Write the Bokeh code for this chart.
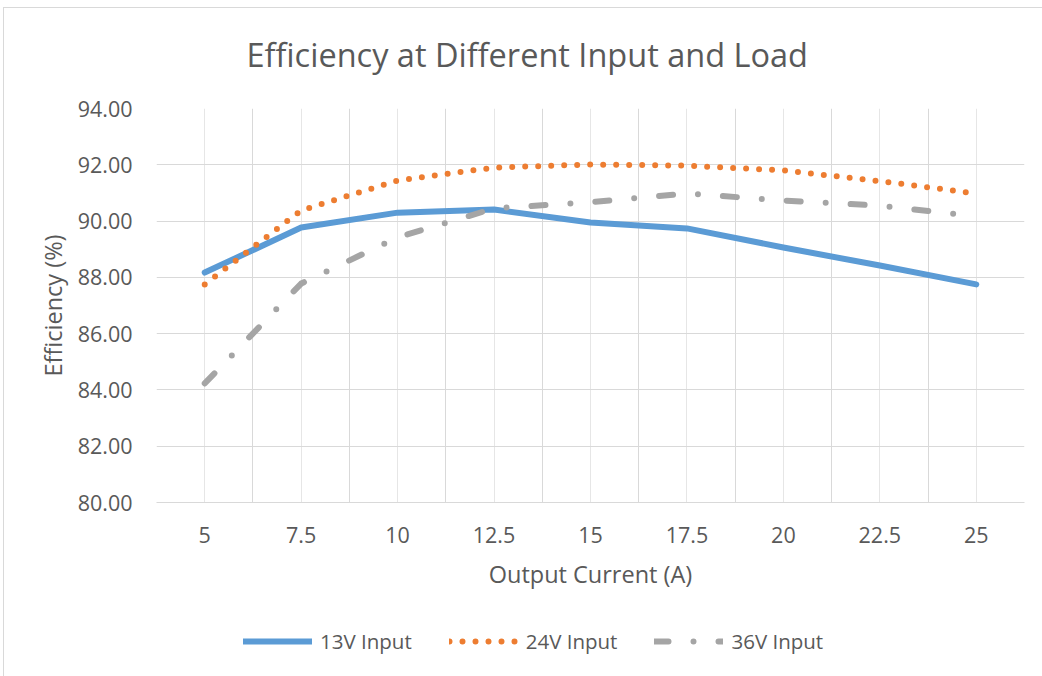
from bokeh.plotting import figure
from bokeh.layouts import column
from bokeh.models import (FixedTicker, NumeralTickFormatter, Legend, LegendItem,
                          Range1d, ColumnDataSource, Title)
from bokeh.embed import file_html
from bokeh.resources import INLINE

# ---- data ----
current = [5, 7.5, 10, 12.5, 15, 17.5, 20, 22.5, 25]
eff_13v = [88.17, 89.77, 90.30, 90.41, 89.95, 89.74, 89.06, 88.42, 87.75]
eff_24v = [87.75, 90.38, 91.44, 91.90, 92.01, 91.97, 91.80, 91.42, 90.98]
eff_36v = [84.23, 87.78, 89.42, 90.45, 90.67, 90.98, 90.73, 90.55, 90.17]
series_names = ["13V Input", "24V Input", "36V Input"]
y_ticks = [80, 82, 84, 86, 88, 90, 92, 94]
title_text = "Efficiency at Different  Input and Load"

FONT = "Open Sans"
TXT = "#595959"
GRID = "#d9d9d9"
COLORS = ["#5b9bd5", "#ed7d31", "#a5a5a5"]
DASHES = ["solid", "0 13", "14 25 0 25"]

step = current[1] - current[0]
half = step / 2
x_lo = current[0] - half
x_hi = current[-1] + half
boundaries = [x_lo + i * step for i in range(len(current) + 1)]

W = 1038
H0, H1, H2 = 80, 528, 60


def blank(height, **kw):
    f = figure(width=W, height=height, output_backend="svg", toolbar_location=None,
               x_axis_type=None, y_axis_type=None,
               x_range=Range1d(0, 1), y_range=Range1d(0, 1),
               min_border_left=152, min_border_right=18, **kw)
    f.outline_line_color = None
    f.grid.visible = False
    f.background_fill_color = "white"
    f.border_fill_color = "white"
    return f


# ---- header with the chart title ----
h = blank(H0, min_border_top=0, min_border_bottom=62)
h.add_layout(Title(text=title_text, align="left", offset=90, vertical_align="top",
                   standoff=11, text_font=FONT, text_font_size="32.5px",
                   text_font_style="normal", text_color=TXT), "below")

# ---- main chart ----
p = figure(width=W, height=H1, output_backend="svg", toolbar_location=None,
           x_range=Range1d(x_lo, x_hi), y_range=Range1d(y_ticks[0], y_ticks[-1]),
           min_border_left=152, min_border_right=18, min_border_top=20,
           min_border_bottom=114)
p.outline_line_color = None
p.background_fill_color = "white"
p.border_fill_color = "white"

p.xgrid.ticker = FixedTicker(ticks=boundaries, minor_ticks=current)
p.xgrid.grid_line_color = GRID
p.xgrid.minor_grid_line_color = "#e6e6e6"
p.ygrid.ticker = FixedTicker(ticks=y_ticks)
p.ygrid.grid_line_color = GRID

xa = p.xaxis[0]
xa.ticker = FixedTicker(ticks=current)
xa.major_tick_line_color = None
xa.minor_tick_line_color = None
xa.axis_line_color = GRID
xa.major_label_standoff = 18
xa.major_label_text_font = FONT
xa.major_label_text_font_size = "21.5px"
xa.major_label_text_color = TXT
xa.axis_label = "Output Current (A)"
xa.axis_label_text_font = FONT
xa.axis_label_text_font_size = "23.5px"
xa.axis_label_text_font_style = "normal"
xa.axis_label_text_color = TXT
xa.axis_label_standoff = 12

ya = p.yaxis[0]
ya.ticker = FixedTicker(ticks=y_ticks)
ya.formatter = NumeralTickFormatter(format="0.00")
ya.major_tick_line_color = None
ya.minor_tick_line_color = None
ya.axis_line_color = None
ya.major_label_standoff = 18
ya.major_label_text_font = FONT
ya.major_label_text_font_size = "21.5px"
ya.major_label_text_color = TXT
ya.axis_label = "Efficiency (%)"
ya.axis_label_text_font = FONT
ya.axis_label_text_font_size = "23.5px"
ya.axis_label_text_font_style = "normal"
ya.axis_label_text_color = TXT
ya.axis_label_standoff = 6

src = ColumnDataSource(dict(x=current, a=eff_13v, b=eff_24v, c=eff_36v))
cols = ["a", "b", "c"]
for col, c, d in zip(cols, COLORS, DASHES):
    p.line("x", col, source=src, line_color=c, line_width=6,
           line_cap="round", line_join="round", line_dash=d)

# ---- legend strip (same series styles; renderers lie outside its view) ----
q = blank(H2, min_border_top=0, min_border_bottom=0)
items = []
for name, col, c, d in zip(series_names, cols, COLORS, DASHES):
    r = q.line("x", col, source=src, line_color=c, line_width=6,
               line_cap="round", line_join="round", line_dash=d)
    items.append(LegendItem(label=name, renderers=[r]))

legend = Legend(items=items, orientation="horizontal", location=(87, 21),
                glyph_width=69, glyph_height=20, label_height=20,
                label_standoff=8, spacing=37, padding=0, margin=0,
                border_line_color=None, background_fill_alpha=0,
                label_text_font=FONT, label_text_font_size="20.5px",
                label_text_color=TXT)
q.add_layout(legend, "center")

layout = column(h, p, q, spacing=0,
                styles={"border-top": "1px solid #d9d9d9",
                        "border-left": "1px solid #d9d9d9",
                        "margin-top": "7px", "margin-left": "3px"})

open("out.html", "w").write(file_html(layout, INLINE))
